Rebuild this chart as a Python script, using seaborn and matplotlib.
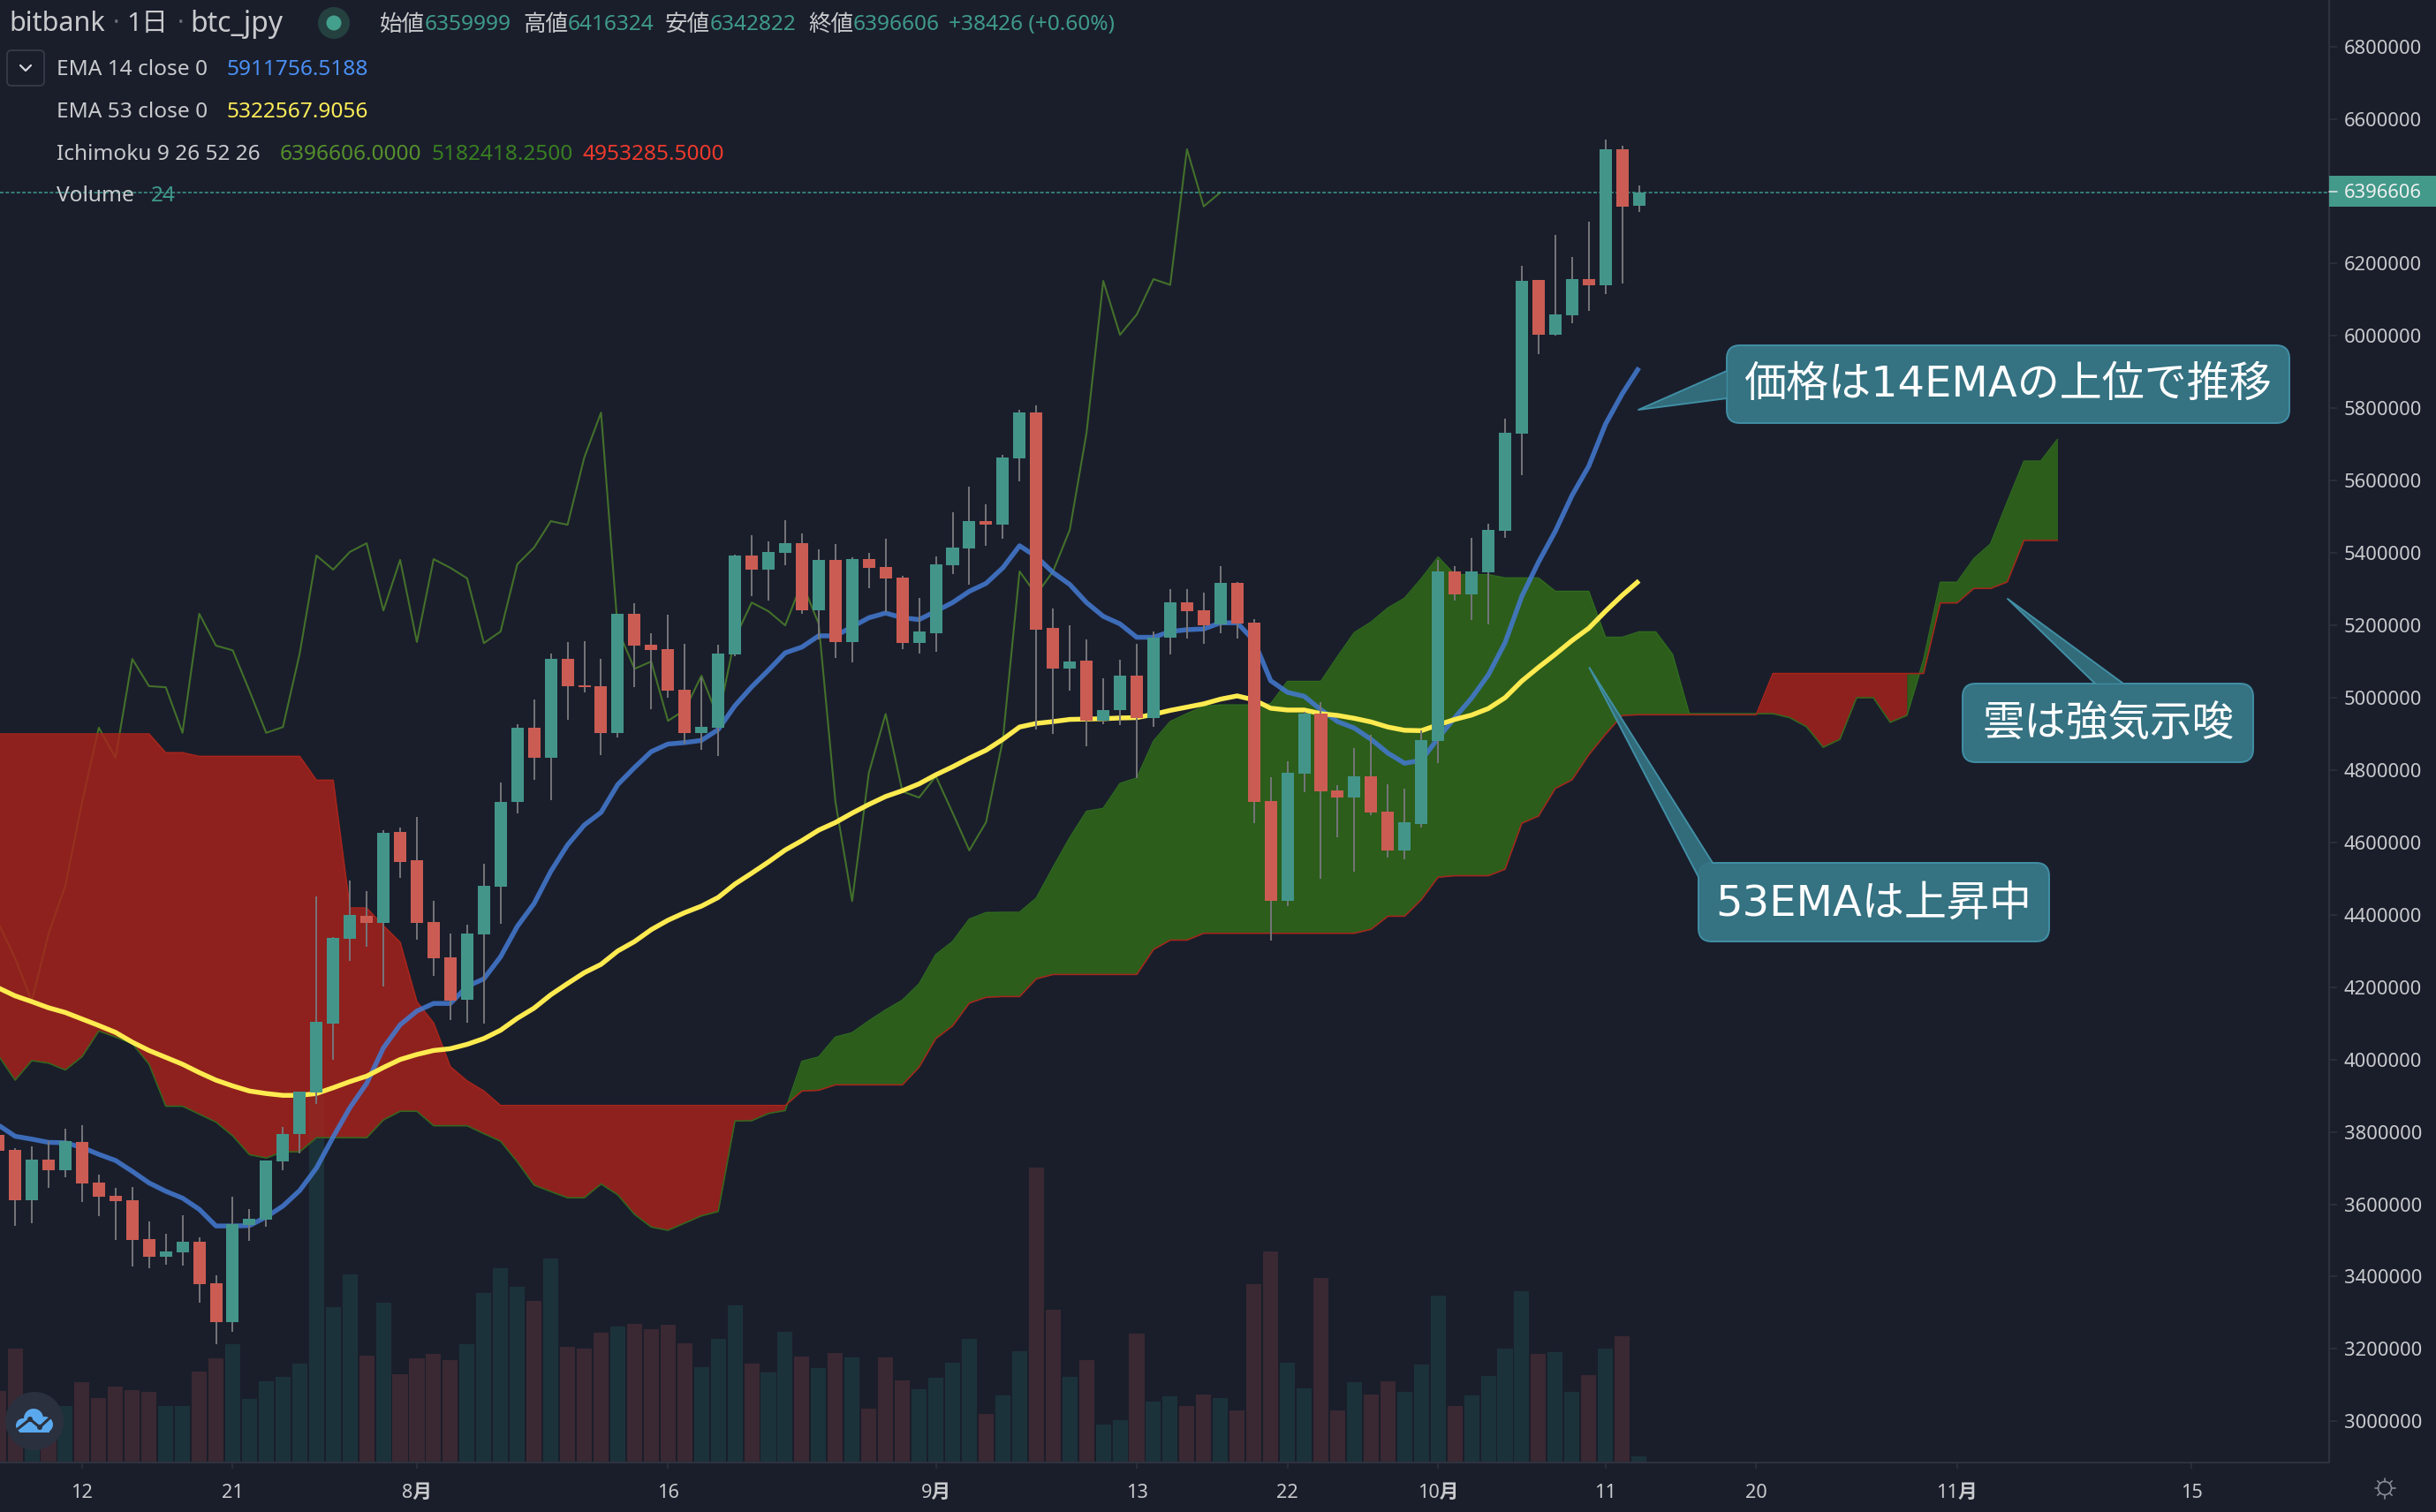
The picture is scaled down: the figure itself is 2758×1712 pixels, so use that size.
import numpy as np
import pandas as pd
import seaborn as sns
import matplotlib
matplotlib.use("Agg")
import matplotlib.pyplot as plt
from matplotlib.patches import FancyBboxPatch, Polygon, Circle

# ---------- data (prices in thousand JPY) ----------
first_day = -5          # day 0 = 12 July
opens = [3791,3750,3612,3723,3694,
 3773,3660,3623,3611,3504,3454,3467,3496,3382,3274,
 3543,3558,3718,3793,3909,4100,4333,4398,4377,4629,
 4551,4380,4283,4165,4345,4478,4711,4917,4835,5107,
 5034,5032,4903,5232,5147,5135,5022,4903,4917,5119,
 5393,5354,5401,5427,5241,5381,5154,5383,5361,5332,
 5151,5178,5366,5413,5488,5478,5661,5788,5192,5080,
 5102,4936,4966,5061,4944,5166,5263,5241,5203,5318,
 5208,4714,4438,4790,4955,4744,4724,4783,4685,4577,
 4651,4881,5349,5285,5346,5462,5730,6154,6003,6057,
 6157,6141,6516,6359.999]
closes = [3748,3612,3723,3694,3774,
 3657,3621,3609,3501,3454,3470,3496,3379,3274,3545,
 3560,3721,3795,3912,4104,4336,4399,4377,4626,4546,
 4377,4280,4162,4348,4480,4711,4917,4834,5107,5032,
 5029,4903,5232,5144,5131,5019,4903,4919,5122,5393,
 5354,5403,5427,5241,5381,5154,5383,5359,5330,5151,
 5183,5369,5415,5488,5478,5664,5788,5188,5080,5100,
 4936,4966,5061,4944,5165,5263,5239,5200,5318,5205,
 4713,4438,4793,4955,4741,4724,4783,4682,4578,4656,
 4883,5349,5285,5349,5464,5732,6152,6003,6059,6157,
 6141,6516,6358,6396.606]
highs = [3810,3754,3760,3775,3809,
 3818,3682,3645,3648,3553,3518,3570,3509,3404,3621,
 3587,3721,3814,3912,4451,4339,4495,4466,4634,4641,
 4670,4439,4348,4372,4541,4766,4926,4995,5122,5154,
 5156,5107,5232,5261,5177,5230,5148,5057,5147,5395,
 5450,5432,5491,5454,5410,5425,5389,5401,5440,5337,
 5276,5391,5513,5584,5535,5671,5796,5808,5247,5200,
 5162,5054,5105,5149,5183,5300,5300,5291,5364,5320,
 5218,4781,4824,4961,4988,4759,4861,4897,4761,4749,
 4910,5381,5364,5442,5481,5771,6193,6154,6279,6218,
 6316,6543,6526,6416.324]
lows = [3730,3540,3548,3645,3674,
 3606,3567,3502,3428,3423,3432,3431,3328,3213,3248,
 3499,3538,3693,3741,3877,3999,4272,4312,4201,4502,
 4331,4230,4109,4101,4100,4375,4681,4773,4718,4939,
 5015,4841,4890,5030,4969,4999,4874,4855,4839,5114,
 5281,5269,5366,5232,5160,5110,5098,5302,5236,5135,
 5122,5127,5342,5312,5420,5440,5598,4911,4900,5020,
 4866,4928,4925,4779,4919,5119,5163,5149,5178,5163,
 4653,4328,4424,4739,4499,4614,4519,4675,4558,4553,
 4642,4820,5269,5215,5202,5441,5616,5950,6001,6034,
 6069,6116,6146,6342.822]
ema14 = [3819,3788,3780,3771,3770,
 3757,3738,3721,3691,3659,3636,3617,3586,3540,3540,
 3541,3565,3595,3638,3700,3786,3867,3934,4032,4096,
 4134,4155,4155,4202,4223,4284,4368,4431,4520,4593,
 4648,4683,4760,4807,4851,4872,4876,4882,4912,4978,
 5030,5076,5124,5140,5171,5171,5196,5221,5234,5221,
 5216,5239,5263,5294,5316,5359,5420,5390,5346,5313,
 5263,5225,5204,5167,5167,5183,5188,5190,5207,5207,
 5158,5047,5015,5004,4967,4934,4916,4885,4847,4819,
 4827,4888,4945,4999,5063,5152,5280,5375,5460,5559,
 5640,5756,5840,5912]
ema53 = [4198,4176,4160,4143,4130,
 4112,4094,4075,4048,4025,4006,3987,3964,3943,3927,
 3913,3906,3901,3901,3906,3922,3939,3954,3978,4000,
 4014,4025,4030,4042,4058,4081,4114,4142,4179,4210,
 4240,4263,4300,4326,4359,4385,4406,4424,4448,4485,
 4515,4546,4579,4605,4634,4655,4681,4705,4727,4743,
 4762,4787,4809,4833,4855,4885,4919,4929,4934,4940,
 4941,4942,4944,4945,4954,4965,4974,4983,4996,5005,
 4994,4971,4966,4966,4956,4951,4943,4933,4919,4910,
 4909,4925,4940,4952,4970,5000,5046,5084,5120,5158,
 5192,5239,5283,5323]
volumes = [278,442,192,226,219,
 312,250,295,281,274,219,219,353,405,459,
 247,315,333,384,1426,603,730,415,621,343,
 405,422,398,459,658,754,682,627,792,449,
 442,504,528,540,519,536,464,371,481,611,
 385,351,509,413,368,426,409,210,409,320,
 286,330,389,481,190,262,433,1144,594,334,
 399,149,166,502,238,258,221,265,251,203,
 694,821,389,289,718,203,313,265,317,275,
 382,649,221,262,337,443,666,423,430,275,
 341,443,491,24]
senkou_a = [4011,3943,3997,3990,3971,
 4008,4079,4062,4044,3987,3871,3871,3849,3827,3789,
 3737,3728,3745,3745,3784,3784,3784,3784,3833,3857,
 3857,3817,3817,3817,3795,3774,3717,3653,3635,3618,
 3618,3656,3626,3572,3537,3528,3548,3568,3580,3830,
 3831,3851,3859,3995,4007,4062,4074,4107,4137,4164,
 4209,4290,4326,4388,4406,4407,4407,4446,4531,4613,
 4686,4694,4763,4778,4880,4934,4956,4976,4980,4980,
 4980,4983,5045,5045,5045,5114,5180,5209,5248,5275,
 5329,5389,5340,5340,5340,5331,5331,5331,5294,5294,
 5294,5167,5167,5182,5182,5120,4956,4956,4956,4956,
 4956,4956,4945,4920,4863,4885,5000,5000,4932,4951,
 5105,5319,5319,5384,5425,5541,5654,5654,5714]
senkou_b = [4900,4900,4900,4900,4900,
 4900,4900,4900,4900,4900,4848,4848,4838,4838,4838,
 4838,4838,4838,4838,4772,4772,4419,4419,4370,4324,
 4160,4101,3980,3941,3913,3873,3873,3873,3873,3873,
 3873,3873,3873,3873,3873,3873,3873,3873,3873,3873,
 3873,3873,3873,3913,3915,3930,3930,3930,3930,3930,
 3979,4058,4093,4156,4172,4174,4174,4223,4235,4235,
 4235,4235,4235,4235,4304,4330,4330,4349,4349,4349,
 4349,4349,4349,4349,4349,4349,4349,4360,4396,4396,
 4442,4504,4508,4508,4508,4526,4653,4673,4749,4773,
 4842,4899,4951,4953,4953,4953,4953,4953,4953,4953,
 4953,5067,5067,5067,5067,5067,5067,5067,5067,5067,
 5067,5262,5262,5302,5302,5320,5435,5435,5435]
lagging_shift = 25
last_close = 6396606
ytick_values = [3000000 + 200000 * i for i in range(20)]
xtick_days = [0, 9, 20, 35, 51, 63, 72, 81, 91, 100, 112, 126]
xtick_labels = ["12", "21", "8月", "16", "9月", "13", "22", "10月", "11", "20", "11月", "15"]
header_ohlc = [("始値", "6359999"), ("高値", "6416324"), ("安値", "6342822"), ("終値", "6396606")]

# ---------- palette ----------
BG = "#1a1e2b"
UP = "#43958a"; DOWN = "#cb5c53"; WICK = "#76767a"
VOL_UP = "#1c323a"; VOL_DOWN = "#3a2832"
GRID = "#2e323f"; TXT = "#c9cacd"
TEAL = "#3f9a8a"

W, H, AX_R, AX_B = 2758, 1712, 2637, 1656
sns.set_theme(style="dark")
plt.rcParams["font.family"] = ["Noto Sans", "Noto Sans CJK JP", "DejaVu Sans"]
plt.rcParams["axes.unicode_minus"] = False

days = np.arange(first_day, first_day + len(closes))
cloud_days = np.arange(first_day, first_day + len(senkou_a))
o, c, h, l = [np.array(a) * 1000.0 for a in (opens, closes, highs, lows)]
a_v, b_v = np.array(senkou_a) * 1000.0, np.array(senkou_b) * 1000.0

fig = plt.figure(figsize=(W / 100, H / 100), dpi=100, facecolor=BG)
rect = [0, (H - AX_B) / H, AX_R / W, AX_B / H]
ax_vol = fig.add_axes(rect, facecolor=BG, zorder=1)
ax = fig.add_axes(rect, zorder=2, sharex=ax_vol)
ax.patch.set_visible(False)

# volume
vol_df = pd.DataFrame({"day": days, "vol": volumes,
                       "dir": np.where(c >= o, "up", "down")})
sns.barplot(data=vol_df, x="day", y="vol", hue="dir", native_scale=True, dodge=False,
            palette={"up": VOL_UP, "down": VOL_DOWN}, width=0.9, saturation=1,
            errorbar=None, legend=False, linewidth=0, ax=ax_vol)
ax_vol.set_ylim(0, 5680)
ax_vol.set_xlabel(""); ax_vol.set_ylabel("")
ax_vol.set_yticks([])
ax_vol.tick_params(bottom=False, labelbottom=False)
for s in ax_vol.spines.values():
    s.set_visible(False)

# lagging span
sns.lineplot(x=days[:-lagging_shift], y=c[lagging_shift:], color="#43702a", linewidth=1.5,
             errorbar=None, legend=False, zorder=2, ax=ax)

# cloud, coloured per segment by the sign at its end point
green = a_v > b_v
start = 0
for i in range(1, len(green)):
    if i == len(green) - 1 or green[i + 1] != green[i]:
        col = "#316e18" if green[i] else "#ac221b"
        ax.fill_between(cloud_days[start:i + 1], a_v[start:i + 1], b_v[start:i + 1],
                        color=col, alpha=0.8, linewidth=0, zorder=3)
        start = i
sns.lineplot(x=cloud_days, y=a_v, color="#2f6a1e", linewidth=1.1, errorbar=None, legend=False, zorder=3.1, ax=ax)
sns.lineplot(x=cloud_days, y=b_v, color="#a8251c", linewidth=1.1, errorbar=None, legend=False, zorder=3.2, ax=ax)

# current price line
ax.axhline(last_close, color="#3d9a8d", linewidth=1.1, dashes=(2.6, 1.5), zorder=3.5)

# EMAs
sns.lineplot(x=days, y=np.array(ema14) * 1000.0, color="#447ad1", alpha=0.86, linewidth=3.9,
             errorbar=None, legend=False, zorder=4, solid_capstyle="butt", ax=ax)
sns.lineplot(x=days, y=np.array(ema53) * 1000.0, color="#ffeb50", linewidth=3.9,
             errorbar=None, legend=False, zorder=5, solid_capstyle="butt", ax=ax)

# candles
colors = [UP if ci >= oi else DOWN for oi, ci in zip(o, c)]
ax.vlines(days, l, h, color=WICK, linewidth=1.4, zorder=6)
ax.bar(days, np.abs(c - o), bottom=np.minimum(o, c), width=0.74, color=colors,
       linewidth=0, zorder=7)

# axes
px_per_jpy = 409.67 / 1e6
ax.set_ylim(6800000 - (AX_B - 52.6) / px_per_jpy, 6800000 + 52.6 / px_per_jpy)
ax.set_xlim(-92.9 / 18.954, (AX_R - 92.9) / 18.954)
ax.set_ylabel(""); ax.set_xlabel("")
ax.yaxis.tick_right()
shown = [v for v in ytick_values if v != 6400000]
ax.set_yticks(shown)
ax.set_yticklabels([str(v) for v in shown], fontsize=15.8, color=TXT)
ax.tick_params(axis="y", length=6.2, width=1.1, color=GRID, pad=6, right=True, left=False)
ax.set_xticks(xtick_days)
ax.set_xticklabels(xtick_labels, fontsize=15.6, color=TXT)
for lab, txt in zip(ax.get_xticklabels(), xtick_labels):
    if "月" in txt:
        lab.set_fontweight("bold")
ax.tick_params(axis="x", length=5, width=1.1, color=GRID, pad=12, bottom=True)
ax.grid(False)
for name, s in ax.spines.items():
    s.set_visible(name in ("right", "bottom"))
    s.set_color(GRID); s.set_linewidth(1.5)

# ---------- overlay in pixel space (header, callouts, widgets) ----------
ui = fig.add_axes([0, 0, 1, 1], zorder=5)
ui.set_xlim(0, W); ui.set_ylim(H, 0); ui.axis("off"); ui.patch.set_visible(False)

def t(x, y, s, color=TXT, size=17.6, **kw):
    ui.text(x, y, s, color=color, fontsize=size, ha=kw.pop("ha", "left"), va="center", **kw)

t(10, 27, "bitbank", size=22)
t(128, 27, "·", color="#6a6e78", size=20)
t(143, 27, "1日", size=21.5)
t(201, 27, "·", color="#6a6e78", size=20)
t(215, 27, "btc_jpy", size=23)
ui.add_patch(Circle((378, 26), 18, color="#24403f", lw=0))
ui.add_patch(Circle((378, 26), 8.5, color="#43a08c", lw=0))
for x0, (name, val) in zip((430, 592, 753, 915), header_ohlc):
    t(x0, 28, name, size=18.4)
    t(x0 + 51, 28, val, color=TEAL)
t(1074, 28, "+38426 (+0.60%)", color=TEAL)

ui.add_patch(FancyBboxPatch((8, 57), 42, 40, boxstyle="round,pad=0,rounding_size=5",
                            fc="none", ec="#373b47", lw=1.3))
ui.plot([23, 29, 35], [74, 80, 74], color="#d6d8dc", lw=1.6, solid_capstyle="round")

t(64, 79, "EMA 14 close 0")
t(257, 79, "5911756.5188", color="#4a90f5")
t(64, 127, "EMA 53 close 0")
t(257, 127, "5322567.9056", color="#ffee58")
t(64, 175, "Ichimoku 9 26 52 26")
t(317, 175, "6396606.0000", color="#55902c")
t(489, 175, "5182418.2500", color="#397f22")
t(660, 175, "4953285.5000", color="#ee3a2c")
t(64, 222, "Volume")
t(171, 222, "24", color=TEAL)

# price tag
ui.add_patch(plt.Rectangle((AX_R, 199), W - AX_R, 35, fc="#43998a", ec="none"))
ui.plot([AX_R, AX_R + 9], [217, 217], color="#e8e8e8", lw=1.1)
t(2654, 218, "6396606", color="#eef0f0", size=15.8)

def callout(x0, y0, x1, y1, tail, text, cx, cy, size):
    fill, edge = "#357282", "#418fa5"
    ui.add_patch(FancyBboxPatch((x0, y0), x1 - x0, y1 - y0,
                                boxstyle="round,pad=0,rounding_size=15", fc=fill, ec=edge, lw=1.4, zorder=3))
    tip, b1, b2 = tail
    ui.add_patch(Polygon([tip, b1, b2], closed=True, fc=fill, ec="none", alpha=0.92, zorder=4))
    ui.plot([b1[0], tip[0], b2[0]], [b1[1], tip[1], b2[1]], color=edge, lw=1.4, zorder=4)
    ui.text(cx, cy, text, color="white", fontsize=size, ha="center", va="center", zorder=5,
            family=["DejaVu Sans", "Noto Sans CJK JP"])

callout(1955, 391, 2592, 479, ((1855, 464), (1955, 420), (1955, 451)),
        "価格は14EMAの上位で推移", 2273, 435, 34.6)
callout(1923, 977, 2320, 1066, ((1799.5, 756), (1939, 977), (1923, 993)),
        "53EMAは上昇中", 2121, 1023, 34.6)
callout(2222, 774, 2551, 863, ((2273, 678), (2372, 774), (2404, 774)),
        "雲は強気示唆", 2387, 820, 34.2)

# logo
ui.add_patch(Circle((39, 1609), 33, color="#2b303e", lw=0))
for cxy, r in (((26, 1614), 8), ((38, 1606), 11), ((51, 1613), 9)):
    ui.add_patch(Circle(cxy, r, color="#5aa9ee", lw=0))
ui.add_patch(plt.Rectangle((22, 1612), 34, 10, color="#5aa9ee", lw=0))
ui.plot([20, 34, 45, 58], [1618, 1607, 1616, 1604], color="#2b303e", lw=2.2)
ui.add_patch(Circle((34, 1607), 3, color="#2b303e", lw=0))
ui.add_patch(Circle((45, 1616), 3, color="#2b303e", lw=0))

# gear
ui.add_patch(Circle((2700, 1685), 7.5, fc="none", ec="#868a94", lw=1.2))
for ang in np.arange(0, 360, 45):
    ca, sa = np.cos(np.radians(ang)), np.sin(np.radians(ang))
    ui.plot([2700 + 7.5 * ca, 2700 + 11.5 * ca], [1685 + 7.5 * sa, 1685 + 11.5 * sa],
            color="#868a94", lw=1.2)

fig.savefig("out.png", dpi=100, facecolor=BG)
